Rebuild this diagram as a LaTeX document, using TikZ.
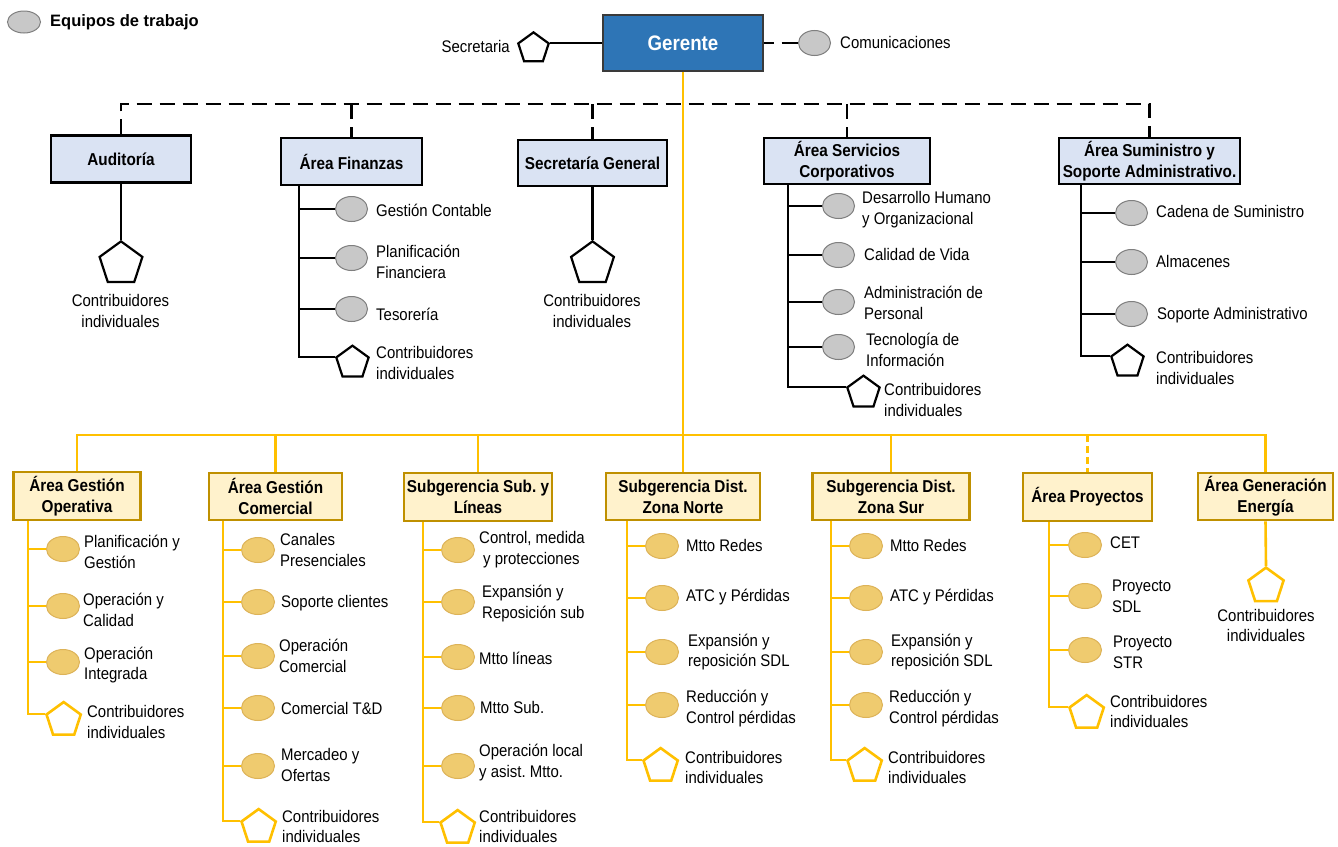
\documentclass[tikz,border=0pt]{standalone}
\usepackage{fontspec}
\setmainfont{Liberation Sans}[FakeStretch=0.89]
\newfontfamily\legendfont{Liberation Sans}
\usetikzlibrary{shapes.geometric}
\frenchspacing

\definecolor{gerblue}{HTML}{2E75B6}
\definecolor{gerline}{HTML}{3A3A3A}
\definecolor{paleblue}{HTML}{DAE3F3}
\definecolor{paleyel}{HTML}{FFF2CC}
\definecolor{goldline}{HTML}{BF9000}
\definecolor{amber}{HTML}{FFC000}
\definecolor{teamgold}{HTML}{EFCB6F}
\definecolor{teamgoldline}{HTML}{DDB358}
\definecolor{teamgray}{HTML}{C8C8C8}
\definecolor{teamgrayline}{HTML}{7F7F7F}

\tikzset{
  txt/.style={font=\fontsize{16.8}{20.7}\selectfont},
  lbl/.style={txt, anchor=west, align=left, inner sep=0pt},
  clbl/.style={txt, align=center, inner sep=0pt},
  gerbox/.style={draw=gerline, line width=1.2pt, fill=gerblue, text=white,
    font=\bfseries\fontsize{21}{24}\selectfont, minimum width=160pt, minimum height=56pt},
  bluebox/.style={draw=black, line width=2.4pt, fill=paleblue, align=center,
    font=\bfseries\fontsize{17.2}{20.7}\selectfont, inner sep=1pt, minimum height=46pt},
  yelbox/.style={draw=goldline, line width=2.8pt, fill=paleyel, align=center,
    font=\bfseries\fontsize{17.2}{20.7}\selectfont, inner sep=1pt, minimum height=47pt},
  grayteam/.style={ellipse, draw=teamgrayline, line width=1pt, fill=teamgray,
    minimum width=32pt, minimum height=25pt, inner sep=0pt},
  goldteam/.style={ellipse, draw=teamgoldline, line width=1pt, fill=teamgold,
    minimum width=33pt, minimum height=25pt, inner sep=0pt},
  blkpent/.style={regular polygon, regular polygon sides=5, draw=black, line width=2.2pt,
    fill=white, minimum size=34pt, inner sep=0pt},
  goldpent/.style={regular polygon, regular polygon sides=5, draw=amber, line width=2.6pt,
    fill=white, minimum size=36pt, inner sep=0pt},
  blkline/.style={draw=black, line width=2.2pt},
  amberline/.style={draw=amber, line width=2.6pt},
  dashline/.style={draw=black, line width=2.4pt, dash pattern=on 15pt off 8pt},
}

\begin{document}
\begin{tikzpicture}[x=1pt,y=-1pt]
\useasboundingbox (0,0) rectangle (1338,846);
\fill[white] (0,0) rectangle (1338,846);

% legend
\node[grayteam, minimum width=33pt, minimum height=22pt] (leg) at (24,22) {};
\node[anchor=west, inner sep=0pt, font=\legendfont\bfseries\fontsize{16.5}{20}\selectfont] (legt) at (50,22) {Equipos de trabajo};

% top level
\node[gerbox] (ger) at (683,43) {Gerente};
\node[blkpent, minimum size=32pt, anchor=corner 5] (secp) at (550,43) {};
\node[lbl, anchor=east] (sect) at (510,46) {Secretaria};
\node[grayteam, anchor=west] (com) at (798,43) {};
\node[lbl] (comt) at (840,42) {Comunicaciones};
\draw[blkline] (ger.west) -- (secp.corner 5);
\draw[dashline, dash pattern=on 10pt off 8pt on 18pt off 8pt] (ger.east) -- (com.west);

% staff areas
\node[bluebox, minimum width=140pt, minimum height=47pt] (aud) at (121,159) {Auditoría};
\node[bluebox, minimum width=141pt, minimum height=47pt] (fin) at (351.5,161.5) {Área Finanzas};
\node[bluebox, minimum width=149pt] (sg) at (592.5,163) {Secretaría General};
\node[bluebox, minimum width=166pt] (serv) at (847,161) {Área Servicios\\Corporativos};
\node[bluebox, minimum width=181pt] (sum) at (1149.5,161) {Área Suministro y\\Soporte Administrativo.};

\coordinate (dl) at (0,104);
\draw[dashline] (aud.north) -- (aud.north |- dl) -- (sum.north |- dl) -- (sum.north);
\draw[dashline] (fin.north |- dl) -- (fin.north);
\draw[dashline] (sg.north |- dl) -- (sg.north);
\draw[dashline] (serv.north |- dl) -- (serv.north);

% Auditoria
\node[blkpent, minimum size=45pt, anchor=corner 1] (audp) at (121,240) {};
\node[clbl] (audt) at (120.5,311) {Contribuidores\\individuales};
\draw[blkline] (aud.south) -- (audp.corner 1);

% Secretaria General
\node[blkpent, minimum size=45pt, anchor=corner 1] (sgp) at (592.5,240) {};
\node[clbl] (sgt) at (592,311) {Contribuidores\\individuales};
\draw[blkline] (sg.south) -- (sgp.corner 1);

% Area Finanzas
\coordinate (fin-s) at (299,0);
\node[grayteam, anchor=west] (fin1) at (335,209) {};
\node[grayteam, anchor=west] (fin2) at (335,258) {};
\node[grayteam, anchor=west] (fin3) at (335,309) {};
\node[blkpent, anchor=corner 2] (finp) at (335,357) {};
\node[lbl] at (376,210) {Gestión Contable};
\node[lbl] at (376,262) {Planificación\\Financiera};
\node[lbl] at (376,314) {Tesorería};
\node[lbl] at (376,363) {Contribuidores\\individuales};
\draw[blkline] (fin.south -| fin-s) -- (fin-s |- finp.corner 2) -- (finp.corner 2);
\foreach \n in {fin1,fin2,fin3} \draw[blkline] (fin-s |- \n.west) -- (\n.west);

% Area Servicios Corporativos
\coordinate (serv-s) at (788,0);
\node[grayteam, anchor=west] (serv1) at (822,206) {};
\node[grayteam, anchor=west] (serv2) at (822,255) {};
\node[grayteam, anchor=west] (serv3) at (822,302) {};
\node[grayteam, anchor=west] (serv4) at (822,347) {};
\node[blkpent, anchor=corner 2] (servp) at (846,387) {};
\node[lbl] at (862,210) {Desarrollo Humano\\y Organizacional};
\node[lbl] at (864,254) {Calidad de Vida};
\node[lbl] at (864,303) {Administración de\\Personal};
\node[lbl] at (866,350) {Tecnología de\\Información};
\node[lbl] at (884,400) {Contribuidores\\individuales};
\draw[blkline] (serv.south -| serv-s) -- (serv-s |- servp.corner 2) -- (servp.corner 2);
\foreach \n in {serv1,serv2,serv3,serv4} \draw[blkline] (serv-s |- \n.west) -- (\n.west);

% Area Suministro y Soporte Administrativo
\coordinate (sum-s) at (1081,0);
\node[grayteam, anchor=west] (sum1) at (1115,213) {};
\node[grayteam, anchor=west] (sum2) at (1115,262) {};
\node[grayteam, anchor=west] (sum3) at (1115,314) {};
\node[blkpent, anchor=corner 2] (sump) at (1110,356) {};
\node[lbl] at (1156,211) {Cadena de Suministro};
\node[lbl] at (1156,261) {Almacenes};
\node[lbl] at (1157,315) {Soporte Administrativo};
\node[lbl] at (1156,368) {Contribuidores\\individuales};
\draw[blkline] (sum.south -| sum-s) -- (sum-s |- sump.corner 2) -- (sump.corner 2);
\foreach \n in {sum1,sum2,sum3} \draw[blkline] (sum-s |- \n.west) -- (\n.west);

% line areas
\node[yelbox, minimum width=127pt, minimum height=48pt] (op) at (77,496) {Área Gestión\\Operativa};
\node[yelbox, minimum width=133pt] (cm) at (275.5,496.5) {Área Gestión\\Comercial};
\node[yelbox, minimum width=148pt, minimum height=48pt] (sub) at (478,497) {Subgerencia Sub. y\\Líneas};
\node[yelbox, minimum width=154pt] (nor) at (683,496.5) {Subgerencia Dist.\\Zona Norte};
\node[yelbox, minimum width=157pt] (sur) at (891,496.5) {Subgerencia Dist.\\Zona Sur};
\node[yelbox, minimum width=129pt, minimum height=48pt] (pro) at (1087.5,497) {Área Proyectos};
\node[yelbox, minimum width=135pt] (gen) at (1265.5,496.5) {Área Generación\\Energía};

\coordinate (yl) at (0,435);
\draw[amberline] (ger.south) -- (ger.south |- yl);
\draw[amberline] (op.north) -- (op.north |- yl) -- (gen.north |- yl) -- (gen.north);
\foreach \n in {cm,sub,nor,sur} \draw[amberline] (\n.north |- yl) -- (\n.north);
\draw[amberline, dash pattern=on 7pt off 4pt] (pro.north |- yl) -- (pro.north);

% Area Gestion Operativa
\coordinate (op-s) at (28,0);
\node[goldteam, anchor=west] (op1) at (46,549) {};
\node[goldteam, anchor=west] (op2) at (46,606) {};
\node[goldteam, anchor=west] (op3) at (46,662) {};
\node[goldpent, anchor=corner 2] (opp) at (45,714) {};
\node[lbl] at (84,552) {Planificación y\\Gestión};
\node[lbl] at (83,610) {Operación y\\Calidad};
\node[lbl] at (84,665) {Operación\\Integrada};
\node[lbl] at (87,722) {Contribuidores\\individuales};
\draw[amberline] (op.south -| op-s) -- (op-s |- opp.corner 2) -- (opp.corner 2);
\foreach \n in {op1,op2,op3} \draw[amberline] (op-s |- \n.west) -- (\n.west);

% Area Gestion Comercial
\coordinate (cm-s) at (223,0);
\node[goldteam, anchor=west] (cm1) at (241,550) {};
\node[goldteam, anchor=west] (cm2) at (241,602) {};
\node[goldteam, anchor=west] (cm3) at (241,656) {};
\node[goldteam, anchor=west] (cm4) at (241,708) {};
\node[goldteam, anchor=west] (cm5) at (241,766) {};
\node[goldpent, anchor=corner 2] (cmp) at (240,821) {};
\node[lbl] at (280,550) {Canales\\Presenciales};
\node[lbl] at (281,603) {Soporte clientes};
\node[lbl] at (279,656) {Operación\\Comercial};
\node[lbl] at (281,708) {Comercial T\&D};
\node[lbl] at (281,765) {Mercadeo y\\Ofertas};
\node[lbl] at (282,826.5) {Contribuidores\\individuales};
\draw[amberline] (cm.south -| cm-s) -- (cm-s |- cmp.corner 2) -- (cmp.corner 2);
\foreach \n in {cm1,cm2,cm3,cm4,cm5} \draw[amberline] (cm-s |- \n.west) -- (\n.west);

% Subgerencia Sub. y Lineas
\coordinate (sub-s) at (423,0);
\node[goldteam, anchor=west] (sub1) at (441,550) {};
\node[goldteam, anchor=west] (sub2) at (441,602) {};
\node[goldteam, anchor=west] (sub3) at (441,657) {};
\node[goldteam, anchor=west] (sub4) at (441,708) {};
\node[goldteam, anchor=west] (sub5) at (441,766) {};
\node[goldpent, anchor=corner 2] (subp) at (439,822) {};
\node[lbl] at (479,549.5) {Control, medida\\\hspace*{4pt}y protecciones};
\node[lbl] at (482,603.5) {Expansión y\\Reposición sub};
\node[lbl] at (479,658) {Mtto líneas};
\node[lbl] at (480,707) {Mtto Sub.};
\node[lbl] at (479,762.5) {Operación local\\y asist. Mtto.};
\node[lbl] at (479,826.5) {Contribuidores\\individuales};
\draw[amberline] (sub.south -| sub-s) -- (sub-s |- subp.corner 2) -- (subp.corner 2);
\foreach \n in {sub1,sub2,sub3,sub4,sub5} \draw[amberline] (sub-s |- \n.west) -- (\n.west);

% Subgerencia Dist. Zona Norte
\coordinate (nor-s) at (627,0);
\node[goldteam, anchor=west] (nor1) at (645,546) {};
\node[goldteam, anchor=west] (nor2) at (645,598) {};
\node[goldteam, anchor=west] (nor3) at (645,652) {};
\node[goldteam, anchor=west] (nor4) at (645,705) {};
\node[goldpent, anchor=corner 2] (norp) at (642,760) {};
\node[lbl] at (686,545) {Mtto Redes};
\node[lbl] at (686,597) {ATC y Pérdidas};
\node[lbl] at (688,652) {Expansión y\\reposición SDL};
\node[lbl] at (686,708.5) {Reducción y\\Control pérdidas};
\node[lbl] at (685,767.5) {Contribuidores\\individuales};
\draw[amberline] (nor.south -| nor-s) -- (nor-s |- norp.corner 2) -- (norp.corner 2);
\foreach \n in {nor1,nor2,nor3,nor4} \draw[amberline] (nor-s |- \n.west) -- (\n.west);

% Subgerencia Dist. Zona Sur
\coordinate (sur-s) at (831,0);
\node[goldteam, anchor=west] (sur1) at (849,546) {};
\node[goldteam, anchor=west] (sur2) at (849,598) {};
\node[goldteam, anchor=west] (sur3) at (849,652) {};
\node[goldteam, anchor=west] (sur4) at (849,705) {};
\node[goldpent, anchor=corner 2] (surp) at (846,760) {};
\node[lbl] at (890,545) {Mtto Redes};
\node[lbl] at (890,597) {ATC y Pérdidas};
\node[lbl] at (891,652) {Expansión y\\reposición SDL};
\node[lbl] at (889,708.5) {Reducción y\\Control pérdidas};
\node[lbl] at (888,767.5) {Contribuidores\\individuales};
\draw[amberline] (sur.south -| sur-s) -- (sur-s |- surp.corner 2) -- (surp.corner 2);
\foreach \n in {sur1,sur2,sur3,sur4} \draw[amberline] (sur-s |- \n.west) -- (\n.west);

% Area Proyectos
\coordinate (pro-s) at (1049,0);
\node[goldteam, anchor=west] (pro1) at (1068,545) {};
\node[goldteam, anchor=west] (pro2) at (1068,596) {};
\node[goldteam, anchor=west] (pro3) at (1068,650) {};
\node[goldpent, anchor=corner 2] (prop) at (1068,707) {};
\node[lbl] at (1110,543) {CET};
\node[lbl] at (1112,596) {Proyecto\\SDL};
\node[lbl] at (1113,652) {Proyecto\\STR};
\node[lbl] at (1110,711.5) {Contribuidores\\individuales};
\draw[amberline] (pro.south -| pro-s) -- (pro-s |- prop.corner 2) -- (prop.corner 2);
\foreach \n in {pro1,pro2,pro3} \draw[amberline] (pro-s |- \n.west) -- (\n.west);

% Area Generacion Energia
\node[goldpent, minimum size=37pt, anchor=corner 1] (genp) at (1266,566) {};
\node[clbl] at (1266,625.5) {Contribuidores\\individuales};
\draw[amberline] (gen.south) -- (genp.corner 1);
\end{tikzpicture}
\end{document}
